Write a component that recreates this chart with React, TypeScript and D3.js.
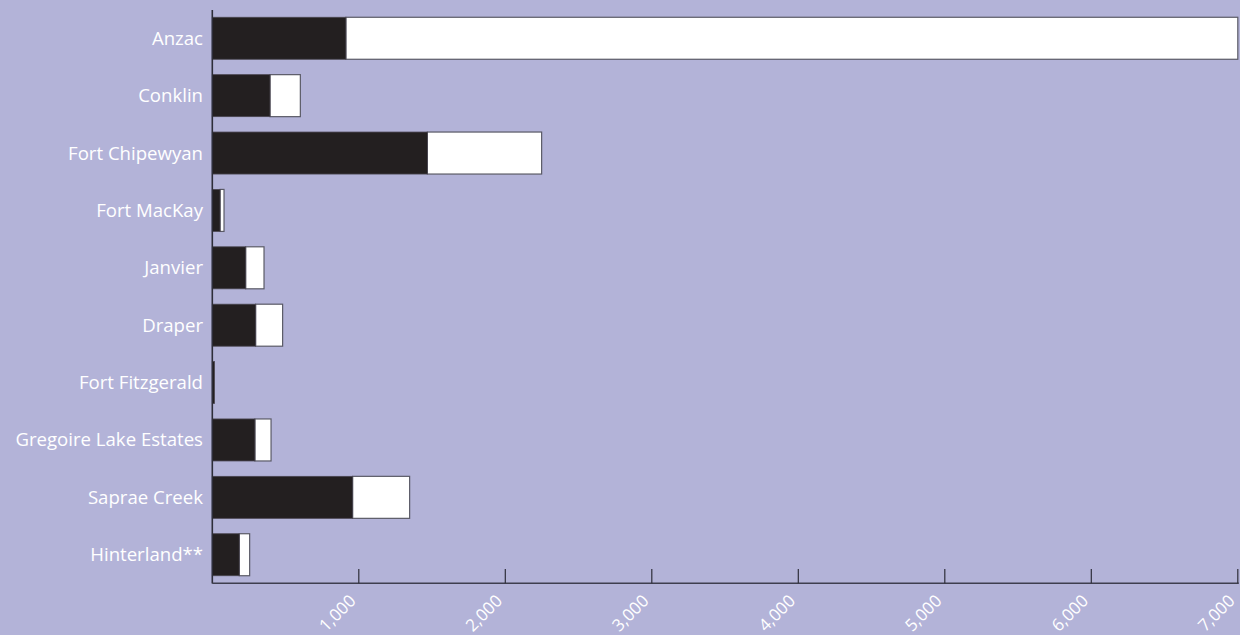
import React, { useEffect, useRef } from "react";
import * as d3 from "d3";

const categories = [
  "Anzac",
  "Conklin",
  "Fort Chipewyan",
  "Fort MacKay",
  "Janvier",
  "Draper",
  "Fort Fitzgerald",
  "Gregoire Lake Estates",
  "Saprae Creek",
  "Hinterland**",
];
const darkValues = [912, 394, 1468, 53, 228, 296, 15, 291, 958, 184];
const whiteValues = [6088, 207, 780, 27, 125, 184, 0, 110, 389, 71];
const tickValues = [1000, 2000, 3000, 4000, 5000, 6000, 7000];

const W = 1240;
const H = 635;
const BG = "#b3b3d8";
const FONT = "'Open Sans', 'Noto Sans', sans-serif";

export default function App() {
  const ref = useRef<SVGSVGElement>(null);

  useEffect(() => {
    const svg = d3.select(ref.current);
    svg.selectAll("*").remove();

    const x0 = 212.3;
    const x = d3.scaleLinear().domain([0, 7000]).range([x0, x0 + 1025.5]);
    const y = d3
      .scaleBand<string>()
      .domain(categories)
      .range([17.3 - 7.72, 575.7 + 7.72])
      .paddingInner(0.268)
      .paddingOuter(0.134);

    svg.append("rect").attr("width", W).attr("height", H).attr("fill", BG);

    const rows = categories.map((c, i) => ({ c, a: darkValues[i], b: whiteValues[i] }));

    svg
      .append("g")
      .selectAll("rect")
      .data(rows.filter((r) => r.b > 0))
      .join("rect")
      .attr("x", (d) => x(d.a))
      .attr("y", (d) => y(d.c)!)
      .attr("width", (d) => x(d.a + d.b) - x(d.a))
      .attr("height", y.bandwidth())
      .attr("fill", "#ffffff")
      .attr("stroke", "#5a5a66")
      .attr("stroke-width", 1.2);

    svg
      .append("g")
      .selectAll("rect")
      .data(rows)
      .join("rect")
      .attr("x", x(0))
      .attr("y", (d) => y(d.c)!)
      .attr("width", (d) => x(d.a) - x(0))
      .attr("height", y.bandwidth())
      .attr("fill", "#231f20")
      .attr("stroke", "#4a4650")
      .attr("stroke-width", 0.8);

    svg
      .append("line")
      .attr("x1", x0)
      .attr("x2", x0)
      .attr("y1", 10)
      .attr("y2", 583.5)
      .attr("stroke", "#2e2e3a")
      .attr("stroke-width", 1.6);

    svg
      .append("line")
      .attr("x1", x0)
      .attr("x2", x(7000) + 1)
      .attr("y1", 583.3)
      .attr("y2", 583.3)
      .attr("stroke", "#3e3e4e")
      .attr("stroke-width", 1.6);

    svg
      .append("g")
      .selectAll("line")
      .data(tickValues)
      .join("line")
      .attr("x1", (d) => x(d))
      .attr("x2", (d) => x(d))
      .attr("y1", 569)
      .attr("y2", 583.3)
      .attr("stroke", "#2e2e3a")
      .attr("stroke-width", 1.2);

    svg
      .append("g")
      .selectAll("text")
      .data(tickValues)
      .join("text")
      .attr("transform", (d) => `translate(${x(d) - 2},${602}) rotate(-45)`)
      .attr("text-anchor", "end")
      .attr("fill", "#ffffff")
      .attr("font-family", FONT)
      .attr("font-size", 17)
      .text((d) => d3.format(",")(d));

    svg
      .append("g")
      .selectAll("text")
      .data(categories)
      .join("text")
      .attr("x", 203)
      .attr("y", (d) => y(d)! + y.bandwidth() / 2)
      .attr("dy", "0.35em")
      .attr("text-anchor", "end")
      .attr("fill", "#ffffff")
      .attr("font-family", FONT)
      .attr("font-size", 18.6)
      .text((d) => d);
  }, []);

  return (
    <div style={{ position: "fixed", left: 0, top: 0, width: W, height: H, background: BG }}>
      <svg ref={ref} width={W} height={H} style={{ display: "block" }} />
    </div>
  );
}
